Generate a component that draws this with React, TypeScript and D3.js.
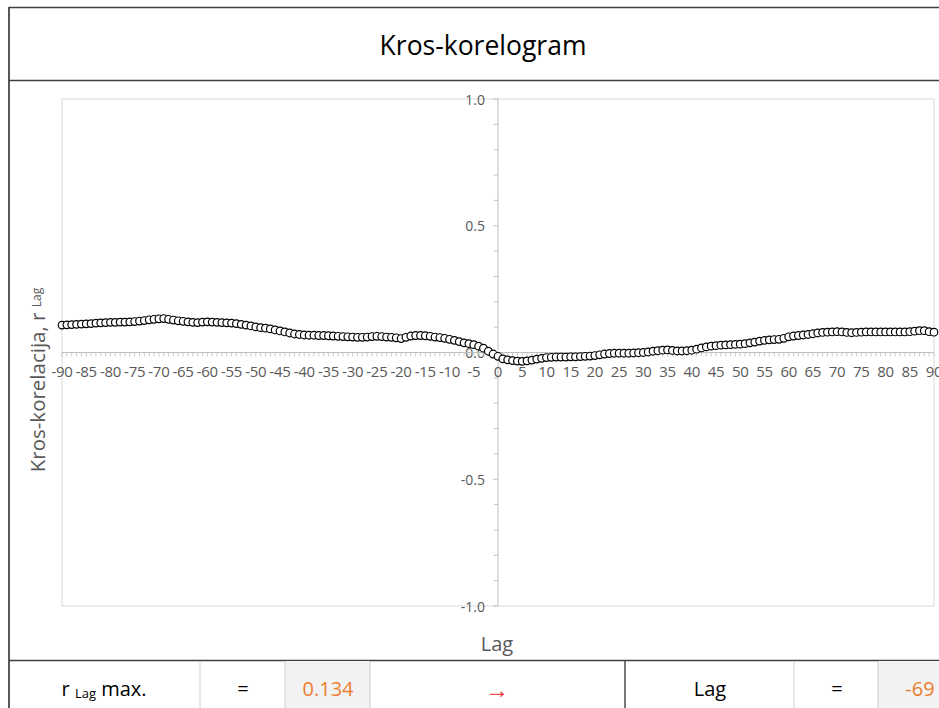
import * as React from 'react';
import * as d3 from 'd3';

// lag -90 .. 90
const lags: number[] = d3.range(-90, 91);
const rValues: number[] = [
  0.108, 0.109, 0.110, 0.111, 0.112, 0.113, 0.114, 0.116, 0.117, 0.118,
  0.119, 0.119, 0.120, 0.120, 0.121, 0.122, 0.124, 0.126, 0.129, 0.131,
  0.133, 0.134, 0.131, 0.128, 0.125, 0.123, 0.121, 0.119, 0.118, 0.120,
  0.121, 0.120, 0.119, 0.118, 0.117, 0.116, 0.114, 0.111, 0.108, 0.105,
  0.101, 0.098, 0.096, 0.093, 0.089, 0.085, 0.081, 0.077, 0.073, 0.071,
  0.069, 0.068, 0.068, 0.067, 0.067, 0.066, 0.065, 0.064, 0.063, 0.062,
  0.061, 0.060, 0.060, 0.061, 0.063, 0.064, 0.063, 0.061, 0.060, 0.058,
  0.055, 0.060, 0.065, 0.067, 0.067, 0.066, 0.064, 0.061, 0.059, 0.056,
  0.052, 0.048, 0.043, 0.038, 0.035, 0.031, 0.025, 0.017, 0.005, -0.006,
  -0.015, -0.025, -0.029, -0.032, -0.034, -0.035, -0.033, -0.030, -0.026, -0.023,
  -0.020, -0.019, -0.018, -0.018, -0.018, -0.017, -0.017, -0.016, -0.015, -0.014,
  -0.012, -0.009, -0.006, -0.004, -0.003, -0.003, -0.003, -0.003, -0.002, -0.001,
  0.000, 0.002, 0.005, 0.007, 0.009, 0.010, 0.008, 0.006, 0.006, 0.007,
  0.009, 0.013, 0.018, 0.022, 0.025, 0.027, 0.029, 0.030, 0.031, 0.032,
  0.033, 0.035, 0.038, 0.041, 0.045, 0.048, 0.050, 0.051, 0.052, 0.056,
  0.062, 0.065, 0.067, 0.069, 0.071, 0.074, 0.077, 0.079, 0.080, 0.081,
  0.082, 0.081, 0.079, 0.078, 0.079, 0.080, 0.081, 0.081, 0.081, 0.081,
  0.081, 0.081, 0.081, 0.081, 0.081, 0.082, 0.084, 0.086, 0.086, 0.082,
  0.080,
];
const xTickLabels: number[] = d3.range(-90, 91, 5);
const yTickLabels: number[] = [-1, -0.5, 0, 0.5, 1];
const yMinorTicks: number[] = d3.range(-10, 11).map((v) => v / 10);

const title = 'Kros-korelogram';
const maxR = '0.134';
const maxLag = '-69';

const FONT = "'Open Sans', 'Noto Sans', sans-serif";

export default function App() {
  const W = 939, H = 708;
  const x = d3.scaleLinear().domain([-90, 90]).range([62, 934]);
  const y = d3.scaleLinear().domain([-1, 1]).range([606, 99]);
  const axisColor = '#bfbfbf';
  const labelColor = '#595959';

  return (
    <svg width={W} height={H} style={{ position: 'absolute', left: 0, top: 0, background: '#fff' }} fontFamily={FONT}>
      {/* outer frame */}
      <line x1={9} y1={7.5} x2={W} y2={7.5} stroke="#404040" strokeWidth={1.5} />
      <line x1={9} y1={7} x2={9} y2={H} stroke="#202020" strokeWidth={1.5} />
      <line x1={9} y1={80.5} x2={W} y2={80.5} stroke="#404040" strokeWidth={1.5} />
      <text x={483} y={45} textAnchor="middle" dominantBaseline="central" fontSize={26.5} fill="#000">{title}</text>

      {/* plot area */}
      <rect x={62} y={99} width={872} height={507} fill="none" stroke="#d9d9d9" strokeWidth={1} />

      {/* y axis */}
      <line x1={x(0)} y1={y(1)} x2={x(0)} y2={y(-1)} stroke={axisColor} strokeWidth={1} />
      {yMinorTicks.map((t) => (
        <line key={'ym' + t} x1={x(0) - (Math.abs((t * 10) % 5) < 0.01 ? 5 : 4)} x2={x(0)} y1={y(t)} y2={y(t)} stroke={axisColor} />
      ))}
      {yTickLabels.map((t) => (
        <text key={'yl' + t} x={x(0) - 13} y={y(t)} textAnchor="end" dominantBaseline="central" fontSize={14} fill={labelColor}>
          {d3.format('.1f')(t).replace('−', '-')}
        </text>
      ))}

      {/* x axis */}
      <line x1={x(-90)} y1={y(0)} x2={x(90)} y2={y(0)} stroke={axisColor} strokeWidth={1} />
      {lags.map((l) => (
        <line key={'xm' + l} x1={x(l)} x2={x(l)} y1={y(0)} y2={y(0) + 4} stroke={axisColor} strokeWidth={0.8} />
      ))}
      {xTickLabels.map((t) => (
        <text key={'xl' + t} x={x(t)} y={y(0) + 18} textAnchor="middle" dominantBaseline="central" fontSize={15} letterSpacing={-0.3} fill={labelColor}>
          {String(t)}
        </text>
      ))}

      {/* points */}
      {lags.map((l, i) => (
        <circle key={'p' + l} cx={x(l)} cy={y(rValues[i])} r={3.8} fill="#fff" stroke="#000" strokeWidth={1.2} />
      ))}

      {/* axis titles */}
      <text x={497} y={643} textAnchor="middle" dominantBaseline="central" fontSize={20} fill={labelColor}>Lag</text>
      <text transform="translate(37,380) rotate(-90)" textAnchor="middle" dominantBaseline="central" fontSize={20.5} fill={labelColor}>
        Kros-korelacija, r <tspan fontSize={12} dy={-1}>Lag</tspan>
      </text>

      {/* bottom table */}
      <line x1={9} y1={660.5} x2={W} y2={660.5} stroke="#404040" strokeWidth={1.5} />
      <rect x={285} y={661} width={85} height={H - 661} fill="#f2f2f2" />
      <rect x={878} y={661} width={W - 878} height={H - 661} fill="#f2f2f2" />
      {[200, 285, 370, 794, 878].map((cx) => (
        <line key={'v' + cx} x1={cx} x2={cx} y1={661} y2={H} stroke="#d0d0d0" />
      ))}
      <line x1={625} x2={625} y1={661} y2={H} stroke="#202020" strokeWidth={1.2} />
      <text x={104} y={688} textAnchor="middle" dominantBaseline="central" fontSize={20} fill="#000">
        r <tspan fontSize={13} dy={5}>Lag</tspan><tspan dy={-5}> max.</tspan>
      </text>
      <text x={243} y={688} textAnchor="middle" dominantBaseline="central" fontSize={20} fill="#000">=</text>
      <text x={328} y={688} textAnchor="middle" dominantBaseline="central" fontSize={20} fill="#ed7d31">{maxR}</text>
      <text x={497} y={688} textAnchor="middle" dominantBaseline="central" fontSize={24} fill="#e8302a">→</text>
      <text x={710} y={688} textAnchor="middle" dominantBaseline="central" fontSize={20} fill="#000">Lag</text>
      <text x={837} y={688} textAnchor="middle" dominantBaseline="central" fontSize={20} fill="#000">=</text>
      <text x={920} y={688} textAnchor="middle" dominantBaseline="central" fontSize={20} fill="#ed7d31">{maxLag}</text>
    </svg>
  );
}
